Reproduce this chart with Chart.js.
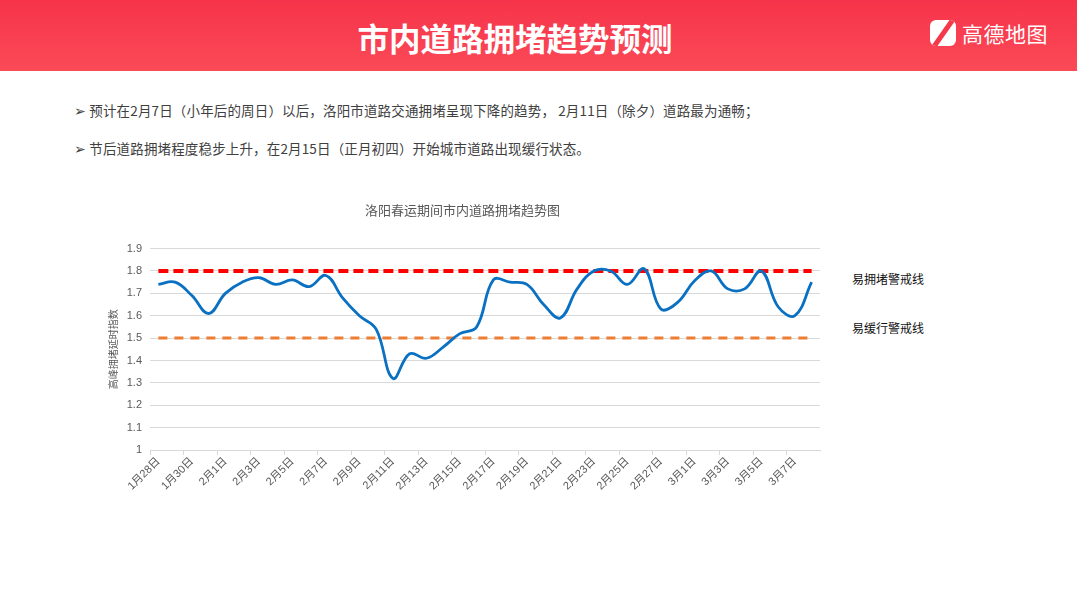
<!DOCTYPE html>
<html>
<head>
<meta charset="utf-8">
<script src="https://cdn.jsdelivr.net/npm/chart.js@4.4.1/dist/chart.umd.min.js"></script>
<style>
  body { margin: 0; width: 1080px; height: 606px; background: #fff; position: relative; overflow: hidden;
         font-family: "Noto Sans CJK SC", "Noto Sans", sans-serif; }
  #header { position: absolute; left: 0; top: 0; width: 1077px; height: 71px;
            background: linear-gradient(#f6334a, #fb4a57); }
  #title { position: absolute; left: 0; width: 1030px; top: 14px; text-align: center; color: #fff;
           font-size: 31.5px; font-weight: bold; }
  #logo { position: absolute; left: 930px; top: 19px; color: #fff; font-size: 21px; height: 30px; }
  #logo .icon { position: absolute; left: 0; top: 1px; width: 26px; height: 26px; border-radius: 6px; background: #fff; overflow: hidden; }
  #logo .icon i { position: absolute; left: 11px; top: -4px; width: 5px; height: 34px; background: #f6384b; transform: rotate(35deg); }
  #logo .txt { position: absolute; left: 32px; top: -1px; white-space: nowrap; letter-spacing: 0.5px; }
  .bullet { position: absolute; left: 74px; font-size: 13.5px; letter-spacing: 0.15px; color: #404040; white-space: nowrap; }
  .tag { position: absolute; left: 852px; font-size: 12px; color: #111; }
  #wrap { position: absolute; left: 100px; top: 190px; width: 730px; height: 310px; }
</style>
</head>
<body>
<div id="header"></div>
<div id="title">市内道路拥堵趋势预测</div>
<div id="logo"><div class="icon"><i></i></div><div class="txt">高德地图</div></div>
<div class="bullet" style="top:100px">➢&nbsp;预计在2月7日（小年后的周日）以后，洛阳市道路交通拥堵呈现下降的趋势， 2月11日（除夕）道路最为通畅；</div>
<div class="bullet" style="top:138px">➢&nbsp;节后道路拥堵程度稳步上升，在2月15日（正月初四）开始城市道路出现缓行状态。</div>
<div class="tag" style="top:270px">易拥堵警戒线</div>
<div class="tag" style="top:319px">易缓行警戒线</div>
<div id="wrap"><canvas id="myChart"></canvas></div>
<script>
var days = ['1月28日','1月29日','1月30日','1月31日','2月1日','2月2日','2月3日','2月4日','2月5日','2月6日',
            '2月7日','2月8日','2月9日','2月10日','2月11日','2月12日','2月13日','2月14日','2月15日','2月16日',
            '2月17日','2月18日','2月19日','2月20日','2月21日','2月22日','2月23日','2月24日','2月25日','2月26日',
            '2月27日','2月28日','3月1日','3月2日','3月3日','3月4日','3月5日','3月6日','3月7日','3月8日'];
var congestion = [1.74, 1.75, 1.69, 1.61, 1.70, 1.75, 1.77, 1.74, 1.76, 1.73,
                  1.78, 1.68, 1.60, 1.54, 1.32, 1.43, 1.41, 1.46, 1.52, 1.55,
                  1.76, 1.75, 1.74, 1.65, 1.59, 1.72, 1.80, 1.80, 1.74, 1.81,
                  1.63, 1.66, 1.755, 1.80, 1.72, 1.72, 1.80, 1.64, 1.60, 1.75];
var jamLine = 1.8;
var slowLine = 1.5;

var jamValues = days.map(function () { return jamLine; });
var slowValues = days.map(function () { return slowLine; });

var tickFont = { family: '"Liberation Sans", "Noto Sans CJK SC"', size: 11 };

var ctx = document.getElementById('myChart').getContext('2d');
var myChart = new Chart(ctx, {
    type: 'line',
    data: {
        labels: days,
        datasets: [{
            label: '高峰拥堵延时指数',
            data: congestion,
            borderColor: '#0a70c2',
            borderWidth: 2.8,
            pointRadius: 0,
            fill: false,
            tension: 0.4
        }, {
            label: '易拥堵警戒线',
            data: jamValues,
            borderColor: '#ff0000',
            borderWidth: 4,
            borderDash: [10, 5],
            pointRadius: 0,
            fill: false
        }, {
            label: '易缓行警戒线',
            data: slowValues,
            borderColor: '#ed7d31',
            borderWidth: 3,
            borderDash: [9, 7],
            pointRadius: 0,
            fill: false
        }]
    },
    options: {
        responsive: true,
        maintainAspectRatio: false,
        animation: false,
        layout: { padding: { left: 5, right: 10, top: 0, bottom: 0 } },
        scales: {
            x: {
                offset: true,
                afterFit: function (scale) { scale.height = 50; },
                grid: {
                    offset: true,
                    drawOnChartArea: false,
                    tickLength: 5,
                    color: function (c) { return c.index % 2 === 0 ? '#d9d9d9' : 'rgba(0,0,0,0)'; }
                },
                border: { color: '#d9d9d9' },
                ticks: {
                    autoSkip: false,
                    minRotation: 45,
                    maxRotation: 45,
                    color: '#595959',
                    font: tickFont,
                    padding: 0,
                    callback: function (v, i) { return i % 2 === 0 ? days[i] : ''; }
                }
            },
            y: {
                min: 1,
                max: 1.9,
                afterFit: function (scale) { scale.width = 45; },
                grid: { color: '#d9d9d9', drawTicks: false },
                border: { display: false },
                ticks: {
                    stepSize: 0.1,
                    padding: 8,
                    color: '#595959',
                    font: tickFont,
                    callback: function (v) { return Math.round(v * 10) / 10; }
                },
                title: {
                    display: true,
                    text: '高峰拥堵延时指数',
                    color: '#595959',
                    font: { family: '"Noto Sans CJK SC"', size: 10 },
                    padding: { top: 2, bottom: 4 }
                }
            }
        },
        plugins: {
            legend: { display: false },
            tooltip: { enabled: false },
            title: {
                display: true,
                text: '洛阳春运期间市内道路拥堵趋势图',
                color: '#595959',
                font: { family: '"Noto Sans CJK SC"', size: 13, weight: 'normal' },
                padding: { top: 12, bottom: 31 }
            }
        }
    }
});
</script>
</body>
</html>
